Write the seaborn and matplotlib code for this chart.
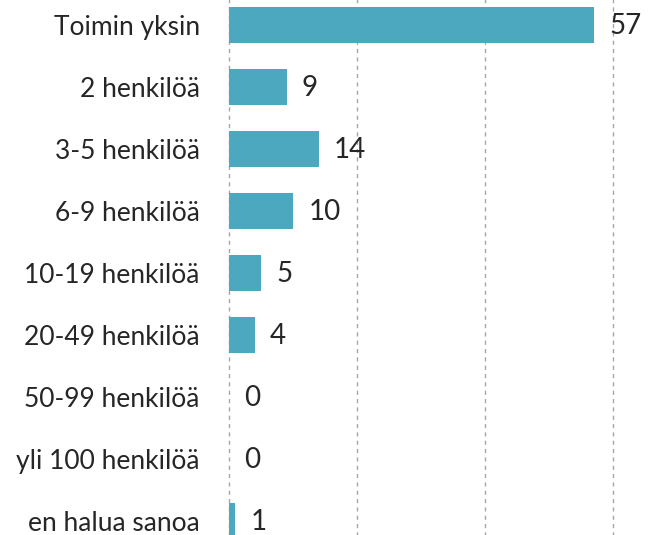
import matplotlib
matplotlib.use("Agg")
import matplotlib.pyplot as plt
import seaborn as sns
import pandas as pd

categories = ["Toimin yksin", "2 henkilöä", "3-5 henkilöä", "6-9 henkilöä",
              "10-19 henkilöä", "20-49 henkilöä", "50-99 henkilöä",
              "yli 100 henkilöä", "en halua sanoa"]
values = [57, 9, 14, 10, 5, 4, 0, 0, 1]
xticks = [0, 20, 40, 60]

sns.set_theme(style="white")
plt.rcParams['font.family'] = ['Lato', 'DejaVu Sans']

df = pd.DataFrame({"cat": categories, "val": values})

fig = plt.figure(figsize=(6.48, 5.35), dpi=100)
ax = fig.add_axes([229/648, -17/535, 384/648, 558/535])
sns.barplot(data=df, y="cat", x="val", color="#4BA8BE", saturation=1,
            width=0.58, ax=ax, orient="h", linewidth=0)
ax.set_xlim(0, 60)
ax.set_xticks(xticks)
ax.set_xticklabels([])
ax.set_xlabel("")
ax.set_ylabel("")
for s in ax.spines.values():
    s.set_visible(False)
ax.xaxis.grid(True, linestyle=(0, (3, 3)), color="#a6a6a6", linewidth=1)
for gl in ax.get_xgridlines():
    gl.set_clip_on(False)
ax.set_axisbelow(True)
ax.tick_params(axis="y", length=0, pad=21, labelsize=19, labelcolor="#262626")
ax.tick_params(axis="x", length=0)
for i, v in enumerate(values):
    ax.annotate(str(v), xy=(v, i), xytext=(11, -1), textcoords="offset points",
                va="center", ha="left", fontsize=20, color="#262626",
                annotation_clip=False)
fig.savefig("out.png", dpi=100)
